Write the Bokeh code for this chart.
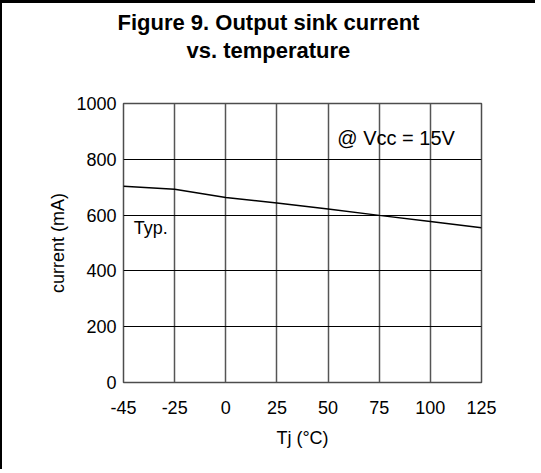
from bokeh.plotting import figure
from bokeh.models import Range1d, FixedTicker, Label, Title
from bokeh.embed import file_html
from bokeh.resources import INLINE

# Data
temp_labels = ["-45", "-25", "0", "25", "50", "75", "100", "125"]
temp_index = [0, 1, 2, 3, 4, 5, 6, 7]
current_mA = [703, 693, 663, 643, 622, 599, 577, 555]
y_ticks = [0, 200, 400, 600, 800, 1000]

FONT = "Liberation Sans"

p = figure(width=535, height=469, output_backend="svg", toolbar_location=None,
           x_range=Range1d(0, 7), y_range=Range1d(0, 1000),
           min_border_left=121, min_border_right=56, min_border_top=100, min_border_bottom=90,
           background_fill_color="white", border_fill_color="white")

p.styles = {"border-left": "2px solid black", "border-top": "3px solid black"}

p.outline_line_color = "#4d4d4d"
p.outline_line_width = 1.5

# grids
p.xgrid.ticker = FixedTicker(ticks=temp_index)
p.ygrid.ticker = FixedTicker(ticks=y_ticks)
p.xgrid.grid_line_color = "#555555"
p.xgrid.grid_line_width = 1.5
p.ygrid.grid_line_color = "black"
p.ygrid.grid_line_width = 1.2

for ax in (p.xaxis[0], p.yaxis[0]):
    ax.axis_line_color = None
    ax.major_tick_line_color = None
    ax.minor_tick_line_color = None
    ax.major_label_text_font = FONT
    ax.major_label_text_font_size = "18px"
    ax.major_label_text_color = "black"
    ax.axis_label_text_font = FONT
    ax.axis_label_text_font_size = "18px"
    ax.axis_label_text_font_style = "normal"
    ax.axis_label_text_color = "black"

p.xaxis.ticker = FixedTicker(ticks=temp_index)
p.xaxis.major_label_overrides = {i: lab for i, lab in zip(temp_index, temp_labels)}
p.xaxis.major_label_standoff = 12
p.xaxis.axis_label = "Tj (°C)"
p.xaxis.axis_label_standoff = 11

p.yaxis.ticker = FixedTicker(ticks=y_ticks)
p.yaxis.major_label_standoff = 1
p.yaxis.axis_label = "current (mA)"
p.yaxis.axis_label_standoff = 5

p.line(temp_index, current_mA, line_color="black", line_width=1.5)

p.add_layout(Label(x=0.2, y=552, text="Typ.", text_font=FONT, text_font_size="18px",
                   text_color="black", text_baseline="middle", text_align="left"))
p.add_layout(Label(x=4.18, y=875, text="@ Vcc = 15V", text_font=FONT, text_font_size="20px",
                   text_color="black", text_baseline="middle", text_align="left"))

# spacer between the frame and the two-line title
spacer = Title(text=" ", text_font_size="1px", standoff=38)
t2 = Title(text="vs. temperature", align="left", offset=63, standoff=0,
           text_font=FONT, text_font_size="22px", text_font_style="bold", text_color="black")
t1 = Title(text="Figure 9. Output sink current", align="left", offset=-6, standoff=2,
           text_font=FONT, text_font_size="22px", text_font_style="bold", text_color="black")
p.add_layout(spacer, "above")
p.add_layout(t2, "above")
p.add_layout(t1, "above")

open("out.html", "w").write(file_html(p, INLINE))
